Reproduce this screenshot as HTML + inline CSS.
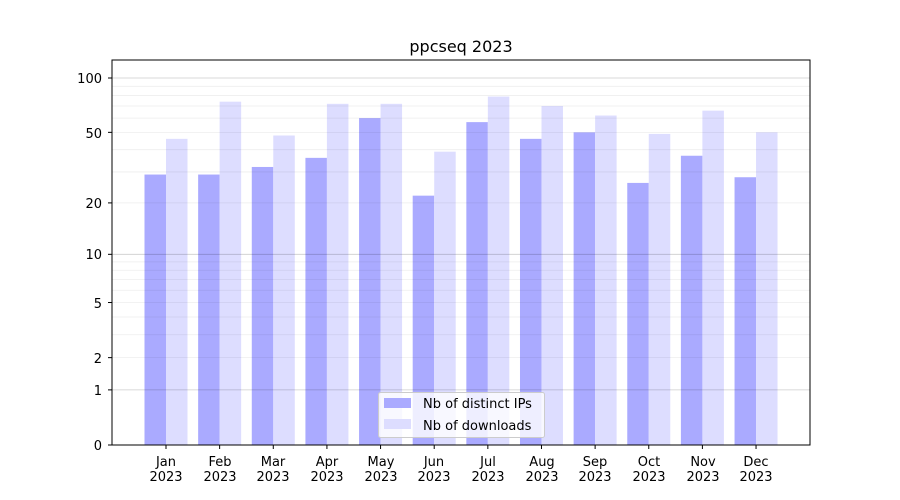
<!DOCTYPE html>
<html><head><meta charset="utf-8"><style>body{margin:0;background:#fff}svg{display:block}text{font-family:"DejaVu Sans","Liberation Sans",sans-serif;font-size:13px;fill:#000}</style></head>
<body>
<svg id="s" width="900" height="500" viewBox="0 0 900 500">
<rect width="900" height="500" fill="#fff"/>
<g id="bars"></g>
<g id="grid"></g>
<rect x="112" y="60" width="698" height="385" fill="none" stroke="#000" stroke-width="1"/>
<text x="461" y="52" text-anchor="middle" style="font-size:16px">ppcseq 2023</text>
<g text-anchor="end">
<text x="102" y="83">100</text>
<text x="102" y="138">50</text>
<text x="102" y="208">20</text>
<text x="102" y="259">10</text>
<text x="102" y="308">5</text>
<text x="102" y="363">2</text>
<text x="102" y="395">1</text>
<text x="102" y="450">0</text>
</g>
<g id="xl" text-anchor="middle">
<text x="166" y="466">Jan</text><text x="166" y="481">2023</text>
<text x="220" y="466">Feb</text><text x="220" y="481">2023</text>
<text x="273" y="466">Mar</text><text x="273" y="481">2023</text>
<text x="327" y="466">Apr</text><text x="327" y="481">2023</text>
<text x="381" y="466">May</text><text x="381" y="481">2023</text>
<text x="434" y="466">Jun</text><text x="434" y="481">2023</text>
<text x="488" y="466">Jul</text><text x="488" y="481">2023</text>
<text x="542" y="466">Aug</text><text x="542" y="481">2023</text>
<text x="595" y="466">Sep</text><text x="595" y="481">2023</text>
<text x="649" y="466">Oct</text><text x="649" y="481">2023</text>
<text x="703" y="466">Nov</text><text x="703" y="481">2023</text>
<text x="756" y="466">Dec</text><text x="756" y="481">2023</text>
</g>
<rect x="378.5" y="392.5" width="166" height="45" rx="2" fill="#fff" fill-opacity="0.8" stroke="#ccc"/>
<rect x="384" y="398" width="27" height="10" fill="#aaaaff"/>
<rect x="384" y="419" width="27" height="10" fill="#ddddff"/>
<text x="423" y="408">Nb of distinct IPs</text>
<text x="423" y="430">Nb of downloads</text>
</svg>
<script>
var ns="http://www.w3.org/2000/svg";
function Y(v){return 445-183.1*Math.log10(1+v);}
function add(p,t,a){var e=document.createElementNS(ns,t);for(var k in a)e.setAttribute(k,a[k]);document.getElementById(p).appendChild(e);}
var g=[2,3,4,5,6,7,8,9,20,30,40,50,60,70,80,90];
g.forEach(function(v){var y=Y(v);add("grid","line",{x1:112,x2:810,y1:y,y2:y,stroke:"#000","stroke-opacity":0.07,"stroke-width":0.8});});
[1,10,100].forEach(function(v){var y=Y(v);add("grid","line",{x1:112,x2:810,y1:y,y2:y,stroke:"#000","stroke-opacity":0.2,"stroke-width":0.8});});
[0,1,2,5,10,20,50,100].forEach(function(v){var y=Y(v);add("grid","line",{x1:108,x2:112,y1:y,y2:y,stroke:"#000"});});
var ip=[29,29,32,36,60,22,57,46,50,26,37,28],dl=[46,74,48,72,72,39,79,70,62,49,66,50];
for(var i=0;i<12;i++){var c=166+i*53.64;
add("bars","rect",{x:c-21.5,y:Y(ip[i]),width:21.5,height:445-Y(ip[i]),fill:"#aaaaff"});
add("bars","rect",{x:c,y:Y(dl[i]),width:21.5,height:445-Y(dl[i]),fill:"#ddddff"});
add("grid","line",{x1:c,x2:c,y1:445,y2:449,stroke:"#000"});}
</script>
</body></html>
